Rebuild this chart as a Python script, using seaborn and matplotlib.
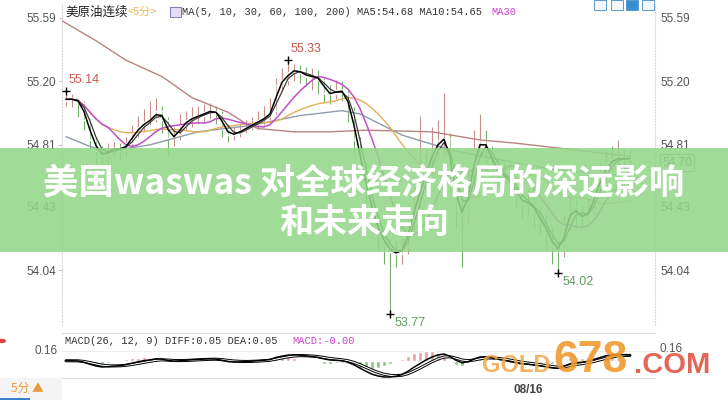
import matplotlib
matplotlib.use("Agg")
import matplotlib.pyplot as plt
import matplotlib.patches as mpatches
import seaborn as sns
import pandas as pd
import numpy as np

# 美原油连续 5分 bars
close = [55.09, 55.09, 55.07, 54.96, 54.84, 54.77, 54.74, 54.78, 54.79, 54.78,
         54.82, 54.88, 54.92, 54.95, 54.97, 55.02, 54.96, 54.85, 54.87, 54.93,
         54.96, 54.98, 54.99, 55.01, 55.02, 55.00, 54.91, 54.87, 54.88, 54.90,
         54.92, 54.94, 54.96, 54.98, 55.02, 55.18, 55.21, 55.26, 55.27, 55.25,
         55.23, 55.23, 55.21, 55.13, 55.12, 55.15, 55.13, 55.02, 54.84, 54.66,
         54.50, 54.35, 54.26, 54.19, 54.15, 54.14, 54.18, 54.32, 54.47, 54.56,
         54.69, 54.78, 54.84, 54.85, 54.62, 54.41, 54.38, 54.59, 54.78, 54.84,
         54.78, 54.67, 54.64, 54.61, 54.56, 54.50, 54.44, 54.47, 54.38, 54.34,
         54.26, 54.18, 54.16, 54.32, 54.43, 54.38, 54.36, 54.41, 54.53, 54.62,
         54.69, 54.72, 54.73, 54.72, 54.73]
high = [55.14, 55.12, 55.10, 55.08, 54.97, 54.86, 54.80, 54.82, 54.83, 54.82,
        54.86, 54.93, 54.99, 55.03, 55.08, 55.10, 55.05, 54.98, 54.92, 55.00,
        55.02, 55.04, 55.05, 55.06, 55.07, 55.05, 55.02, 54.94, 54.92, 54.94,
        54.96, 54.98, 55.02, 55.05, 55.10, 55.22, 55.28, 55.33, 55.31, 55.30,
        55.29, 55.28, 55.27, 55.22, 55.18, 55.21, 55.20, 55.15, 55.04, 54.86,
        54.69, 54.53, 54.40, 54.30, 54.24, 54.22, 54.24, 54.38, 54.55, 54.99,
        54.78, 54.92, 54.96, 55.13, 54.88, 54.66, 54.48, 54.66, 54.90, 55.00,
        54.90, 54.80, 54.72, 54.70, 54.66, 54.60, 54.55, 54.53, 54.50, 54.42,
        54.38, 54.30, 54.22, 54.38, 54.52, 54.47, 54.44, 54.48, 54.60, 54.70,
        54.78, 54.80, 54.84, 54.78, 54.78]
low = [55.05, 55.04, 54.98, 54.90, 54.78, 54.70, 54.68, 54.70, 54.74, 54.72,
       54.75, 54.80, 54.86, 54.89, 54.93, 54.95, 54.88, 54.74, 54.80, 54.84,
       54.90, 54.92, 54.94, 54.95, 54.97, 54.94, 54.86, 54.83, 54.84, 54.86,
       54.88, 54.90, 54.91, 54.93, 54.96, 55.00, 55.14, 55.18, 55.20, 55.19,
       55.17, 55.15, 55.12, 55.07, 55.06, 55.09, 55.08, 54.95, 54.76, 54.58,
       54.42, 54.27, 54.16, 54.08, 53.77, 54.06, 54.08, 54.14, 54.28, 54.42,
       54.50, 54.62, 54.72, 54.75, 54.52, 54.30, 54.06, 54.32, 54.54, 54.74,
       54.70, 54.60, 54.56, 54.54, 54.48, 54.42, 54.36, 54.38, 54.30, 54.26,
       54.16, 54.08, 54.02, 54.12, 54.28, 54.30, 54.30, 54.34, 54.38, 54.48,
       54.58, 54.64, 54.66, 54.66, 54.68]
first_open = 55.08

ma100_bar = [0, 4, 7, 14, 22, 31, 39, 46, 49, 56, 64, 72, 81, 89, 94]
ma100_val = [54.86, 54.80, 54.77, 54.81, 54.89, 54.93, 54.99, 55.02, 55.00,
             54.87, 54.78, 54.72, 54.66, 54.63, 54.62]
ma200_bar = [-1, 5, 10, 16, 21, 27, 30, 32, 38, 44, 50, 61, 69, 75, 94]
ma200_val = [55.58, 55.45, 55.33, 55.23, 55.10, 55.01, 54.94, 54.91, 54.89,
             54.89, 54.90, 54.89, 54.84, 54.82, 54.74]

price_ticks = [55.59, 55.20, 54.81, 54.43, 54.04]
extreme_bars = [0, 37, 54, 82]
extreme_kind = ["high", "high", "low", "low"]
date_bar = 77
date_label = "08/16"
last_price = 54.70
macd_top_label = "0.16"

title_lines = ["美国waswas 对全球经济格局的深远影响", "和未来走向"]

# ---- frame ----
sns.set_theme(style="white")
plt.rcParams['font.family'] = ['Liberation Sans', 'Noto Sans CJK SC', 'DejaVu Sans']
plt.rcParams['axes.unicode_minus'] = False

W, H = 728, 400
fig = plt.figure(figsize=(W / 100, H / 100), dpi=100)
fig.patch.set_facecolor("white")


def fx(px):
    return px / W


def fy(py):
    return 1 - py / H


ax = fig.add_axes([fx(62), fy(325), fx(655) - fx(62), fy(4) - fy(325)])
axm = fig.add_axes([fx(62), fy(378), fx(655) - fx(62), fy(333) - fy(378)])

df = pd.DataFrame({"close": close, "high": high, "low": low})
df["open"] = [first_open] + close[:-1]
df["bar"] = np.arange(len(df))
df["ma5"] = df.close.rolling(2, min_periods=1).mean()
df["ma10"] = df.close.rolling(3, min_periods=1).mean()
df["ma30"] = df.close.rolling(8, min_periods=1).mean()
df["ma60"] = df.close.rolling(20, min_periods=1).mean()

# --- candles ---
up = df.close >= df.open
ccol = np.where(up, "#c8908a", "#72b06a")
ax.vlines(df.bar, df.low, df.high, colors=ccol, lw=0.8, zorder=2)
body = (df.close - df.open).abs().clip(lower=0.006)
ax.bar(df.bar, body, bottom=np.minimum(df.open, df.close), width=0.45,
       color=ccol, zorder=2)

# --- moving averages ---
sns.lineplot(x=ma200_bar, y=ma200_val, ax=ax, color="#b88480", lw=1.0, zorder=3)
sns.lineplot(x=ma100_bar, y=ma100_val, ax=ax, color="#8e9cab", lw=1.0, zorder=3)
sns.lineplot(data=df, x="bar", y="ma60", ax=ax, color="#e6ae5a", lw=1.0, zorder=3)
sns.lineplot(data=df, x="bar", y="ma30", ax=ax, color="#c14fc8", lw=1.1, zorder=3)
sns.lineplot(data=df, x="bar", y="ma10", ax=ax, color="#3a3a3a", lw=0.9, zorder=4)
sns.lineplot(data=df, x="bar", y="ma5", ax=ax, color="black", lw=1.1, zorder=4)

# --- extremes ---
for b, kind in zip(extreme_bars, extreme_kind):
    if kind == "high":
        v = df.high[b]
        ax.plot(b, v, marker="+", color="black", ms=6, mew=1, zorder=5)
        ax.annotate(f"{v:.2f}", (b, v), xytext=(2, 4), textcoords="offset points",
                    ha="left", va="bottom", fontsize=9, color="#c8584f")
    else:
        v = df.low[b]
        ax.plot(b, v, marker="+", color="black", ms=6, mew=1, zorder=5)
        ax.annotate(f"{v:.2f}", (b, v), xytext=(3, -2), textcoords="offset points",
                    ha="left", va="top", fontsize=9, color="#5e9e5e")

ax.set_xlim(-0.667, 98.17)
ax.set_ylim(53.702, 55.676)
ax.set_xlabel("")
ax.set_ylabel("")
ax.set_xticks([])
ax.set_yticks(price_ticks)
ax.set_yticklabels([f"{p:.2f}" for p in price_ticks])
ax.tick_params(axis="y", left=True, right=False, labelleft=True, labelright=True,
               length=2.5, width=0.6, color="#aaaaaa", labelsize=8.5,
               labelcolor="#555555", pad=1.5)
for s in ["top", "bottom"]:
    ax.spines[s].set_visible(False)
for s in ["left", "right"]:
    ax.spines[s].set_color("#d8d8d8")
    ax.spines[s].set_linestyle(":")
    ax.spines[s].set_linewidth(0.8)

# current price box on the right
ax.text(1.012, last_price, f"{last_price:.2f}", transform=ax.get_yaxis_transform(),
        ha="left", va="center", fontsize=8.5, color="#555555",
        bbox=dict(boxstyle="square,pad=0.2", fc="white", ec="#999999", lw=0.7))

# --- MACD ---
cs = pd.Series(close)
diff = cs.ewm(span=5, adjust=False).mean() - cs.ewm(span=11, adjust=False).mean()
dea = diff.ewm(span=4, adjust=False).mean()
hist = 2 * (diff - dea)
hcol = np.where(hist >= 0, "#e3a3a0", "#8cc486")
axm.bar(df.bar, hist, width=0.6, color=hcol, zorder=2)
sns.lineplot(x=df.bar, y=dea, ax=axm, color="black", lw=2.2, zorder=3)
sns.lineplot(x=df.bar, y=dea, ax=axm, color="white", lw=0.8, zorder=3)
sns.lineplot(x=df.bar, y=diff, ax=axm, color="black", lw=1.1, zorder=4)

lo = min(diff.min(), dea.min())
hi = max(diff.max(), dea.max())
sc = (hi - lo) / 23.0
axm.set_ylim(lo - 1 * sc, hi + 21 * sc)
axm.set_xlim(-0.667, 98.17)
axm.set_xlabel("")
axm.set_ylabel("")
axm.set_yticks([])
axm.set_xticks([date_bar])
axm.set_xticklabels([date_label])
axm.tick_params(axis="x", length=0, pad=4, labelsize=8.5, labelcolor="#444444")
for lbl in axm.get_xticklabels():
    lbl.set_fontweight("bold")
for s in ["left", "right"]:
    axm.spines[s].set_visible(False)
for s in ["top", "bottom"]:
    axm.spines[s].set_color("#dddddd")
    axm.spines[s].set_linewidth(0.8)
axm.axhline(hi + 21 * sc - 18 * sc, color="#eeeeee", lw=0.6, zorder=1)

fig.text(fx(58), fy(351), macd_top_label, ha="right", va="center", fontsize=8.5, color="#555555")
fig.text(fx(660), fy(349), macd_top_label, ha="left", va="center", fontsize=8.5, color="#555555")
fig.text(fx(65), fy(341), "MACD(26, 12, 9) DIFF:0.05 DEA:0.05 ", ha="left", va="center",
         fontsize=7.5, family="Liberation Mono", color="#333333")
fig.text(fx(292), fy(341), "MACD:-0.00", ha="left", va="center",
         fontsize=7.5, family="Liberation Mono", color="#d040d0")

# --- header ---
fig.text(fx(65), fy(12), "美原油连续", ha="left", va="center", fontsize=9,
         family=["Noto Sans CJK SC", "DejaVu Sans"], color="#222222")
fig.text(fx(128), fy(12), "<5分>", ha="left", va="center", fontsize=8,
         family=["Noto Sans CJK SC", "DejaVu Sans"], color="#efb45a")
fig.patches.append(mpatches.Rectangle((fx(170), fy(17)), fx(11), 10 / H, transform=fig.transFigure,
                                      fc="#e6dcf2", ec="#7a7ab8", lw=0.7, zorder=4))
fig.text(fx(182), fy(12), "MA(5, 10, 30, 60, 100, 200) MA5:54.68 MA10:54.65",
         ha="left", va="center", fontsize=7.5, family="Liberation Mono", color="#333333")
fig.text(fx(491), fy(12), "MA30", ha="left", va="center", fontsize=7.5,
         family="Liberation Mono", color="#d040d0")
for i, x0 in enumerate([594, 611, 626, 642]):
    filled = i == 2
    fig.patches.append(mpatches.Rectangle((fx(x0), fy(10)), fx(12), 10 / H, transform=fig.transFigure,
                                          fc="#3a8fd0" if filled else "#f4f8fc", ec="#5a9ad0",
                                          lw=0.7, zorder=4))

# bottom-left period box
fig.patches.append(mpatches.Rectangle((0, 0), fx(62), 22 / H, transform=fig.transFigure,
                                      fc="#f4f4f4", ec="none", zorder=2))
fig.patches.append(mpatches.Rectangle((0, 0), fx(30), 2 / H, transform=fig.transFigure,
                                      fc="#3a7fd0", ec="none", zorder=2))
fig.text(fx(27), fy(388), "5分 ▲", ha="center", va="center", fontsize=8.5,
         family=["Noto Sans CJK SC", "DejaVu Sans"], color="#e89a3a")
fig.patches.append(mpatches.Circle((fx(2), fy(341)), 4 / W, transform=fig.transFigure,
                                   fc="#e04040", ec="none", zorder=2))

# --- green title banner ---
fig.patches.append(mpatches.Rectangle((0, fy(252)), 1, 104 / H, transform=fig.transFigure,
                                      fc="#94d68a", ec="none", alpha=0.88, zorder=5))
fig.text(0.5, fy(183), title_lines[0], ha="center", va="center", fontsize=25.5,
         fontweight="bold", color="white", family=["Noto Sans CJK SC", "DejaVu Sans"], zorder=6)
fig.text(0.5, fy(222), title_lines[1], ha="center", va="center", fontsize=24.5,
         fontweight="bold", color="white", family=["Noto Sans CJK SC", "DejaVu Sans"], zorder=6)

# --- watermark ---
fig.text(fx(482), fy(365), "GOLD", ha="left", va="center", fontsize=17, fontweight="bold",
         color="#f2a541", alpha=0.85, zorder=7)
fig.text(fx(553), fy(360), "678", ha="left", va="center", fontsize=32, fontweight="bold",
         color="#f09a2e", alpha=0.9, zorder=7)
fig.text(fx(634), fy(365), ".COM", ha="left", va="center", fontsize=21, fontweight="bold",
         color="#e05545", alpha=0.9, zorder=7)

fig.savefig("out.png", dpi=100)
